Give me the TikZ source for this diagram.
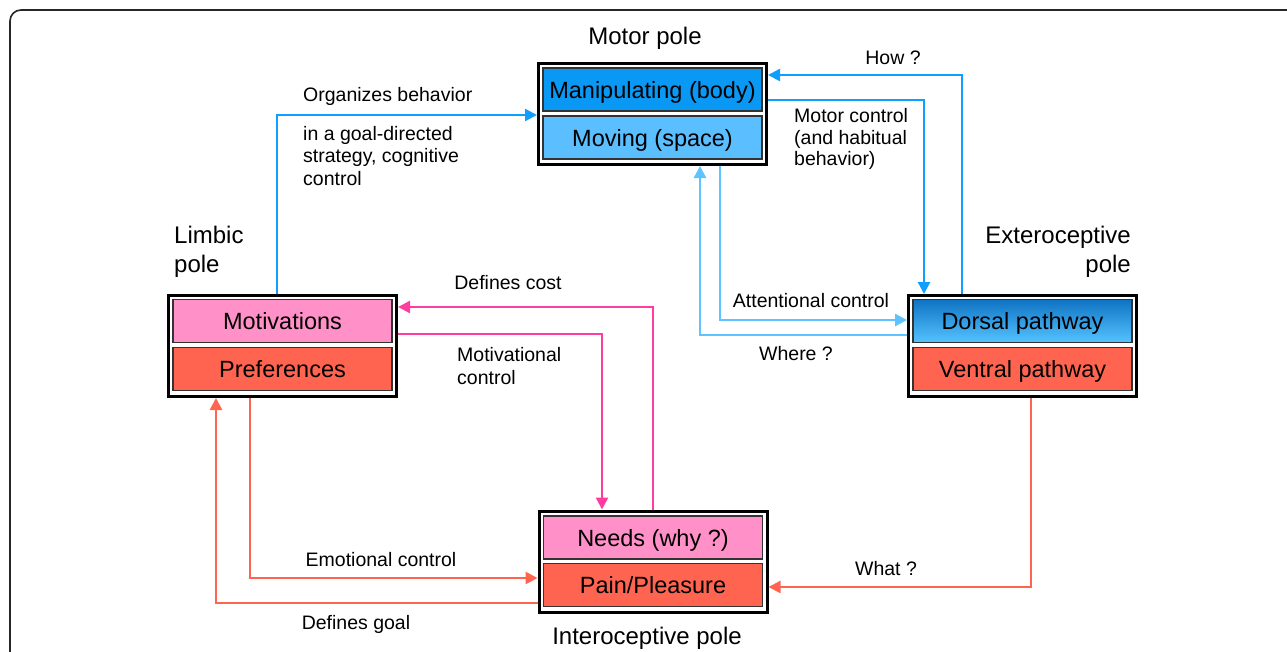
\documentclass[tikz,border=0pt]{standalone}
\usepackage{fontspec}
\setmainfont{Liberation Sans}
\usetikzlibrary{arrows.meta}
\definecolor{cManip}{RGB}{10,152,245}
\definecolor{cMove}{RGB}{90,190,255}
\definecolor{cPink}{RGB}{255,145,200}
\definecolor{cTomato}{RGB}{255,100,80}
\definecolor{aBlue}{RGB}{15,160,255}
\definecolor{aLight}{RGB}{95,195,255}
\definecolor{aPink}{RGB}{255,60,160}
\definecolor{aRed}{RGB}{255,100,80}
\definecolor{dTop}{RGB}{15,115,195}
\definecolor{dBot}{RGB}{85,195,255}
\tikzset{
  frame/.style={draw=black, line width=3pt, fill=white, minimum width=228pt, minimum height=101pt, inner sep=0pt},
  cell/.style={draw=black!80, line width=1.2pt, minimum width=219pt, minimum height=43pt, inner sep=0pt, text height=17.5pt, text depth=0pt, font=\fontsize{23.5}{28}\selectfont},
  lab/.style={font=\fontsize{19.5}{22.5}\selectfont, inner sep=0pt, align=left},
  pole/.style={font=\fontsize{24}{29}\selectfont, inner sep=0pt},
  conn/.style={line width=2.5pt, -{Triangle[length=12pt,width=12pt]}},
  bluearrow/.style={conn, aBlue},
  lightarrow/.style={conn, aLight},
  pinkarrow/.style={conn, aPink},
  redarrow/.style={conn, aRed}
}
\begin{document}
\begin{tikzpicture}[x=1pt,y=-1pt]
\useasboundingbox (0,0) rectangle (1287,651);
\clip (0,0) rectangle (1287,651);
\fill[white] (0,0) rectangle (1287,651);
\draw[black!85, line width=1.6pt, rounded corners=11pt] (10,700) -- (10,10) -- (1320,10);

% frames
\node[frame] (motor) at (652.5,114) {};
\node[frame] (limbic) at (282.5,346) {};
\node[frame] (extero) at (1022.5,346) {};
\node[frame] (intero) at (653,561.5) {};

% cells
\node[cell, fill=cManip] (manip) at (652.5,89.5) {Manipulating (body)};
\node[cell, fill=cMove] (moving) at (652.5,137.5) {Moving (space)};
\node[cell, fill=cPink] (motiv) at (282.5,321) {Motivations};
\node[cell, fill=cTomato] (prefs) at (282.5,369) {Preferences};
\node[cell, top color=dTop, bottom color=dBot] (dorsal) at (1022.5,321) {Dorsal pathway};
\node[cell, fill=cTomato] (ventral) at (1022.5,369) {Ventral pathway};
\node[cell, fill=cPink] (needs) at (653,537.5) {Needs (why ?)};
\node[cell, fill=cTomato] (pain) at (653,585) {Pain/Pleasure};

% pole labels
\node[pole] (motorlab) at (645,38) {Motor pole};
\node[pole, anchor=west, align=left] (limbiclab) at (174,252) {Limbic\\pole};
\node[pole, anchor=east, align=right] (exterolab) at (1131,252) {Exteroceptive\\pole};
\node[pole] (interolab) at (647,638) {Interoceptive pole};

% connectors
\draw[bluearrow] (limbic.north -| 277,0) |- (motor.west |- 0,115);
\draw[bluearrow] (extero.north -| 962,0) |- (motor.east |- 0,75);
\draw[bluearrow] (motor.east |- 0,100) -| (extero.north -| 924,0);
\draw[lightarrow] (motor.south -| 720,0) |- (extero.west |- 0,320);
\draw[lightarrow] (extero.west |- 0,335) -| (motor.south -| 700,0);
\draw[pinkarrow] (intero.north -| 653,0) |- (limbic.east |- 0,307);
\draw[pinkarrow] (limbic.east |- 0,334) -| (intero.north -| 602,0);
\draw[redarrow] (limbic.south -| 250,0) |- (intero.west |- 0,578);
\draw[redarrow] (intero.west |- 0,603) -| (limbic.south -| 216,0);
\draw[redarrow] (extero.south -| 1031,0) |- (intero.east |- 0,587);

% connector labels
\node[lab, anchor=west] (l1) at (303,96) {Organizes behavior};
\node[lab, anchor=west] (l2) at (303,156) {in a goal-directed\\strategy, cognitive\\control};
\node[lab] (l3) at (893,58) {How ?};
\node[lab, anchor=west, font=\fontsize{19.5}{21.5}\selectfont] (l4) at (794,139) {Motor control\\(and habitual\\behavior)};
\node[lab] (l5) at (508,283) {Defines cost};
\node[lab, anchor=west] (l6) at (457,366) {Motivational\\control};
\node[lab] (l7) at (811,301) {Attentional control};
\node[lab] (l8) at (796,354) {Where ?};
\node[lab] (l9) at (381,560) {Emotional control};
\node[lab] (l10) at (356,624) {Defines goal};
\node[lab] (l11) at (886,569) {What ?};
\end{tikzpicture}
\end{document}
